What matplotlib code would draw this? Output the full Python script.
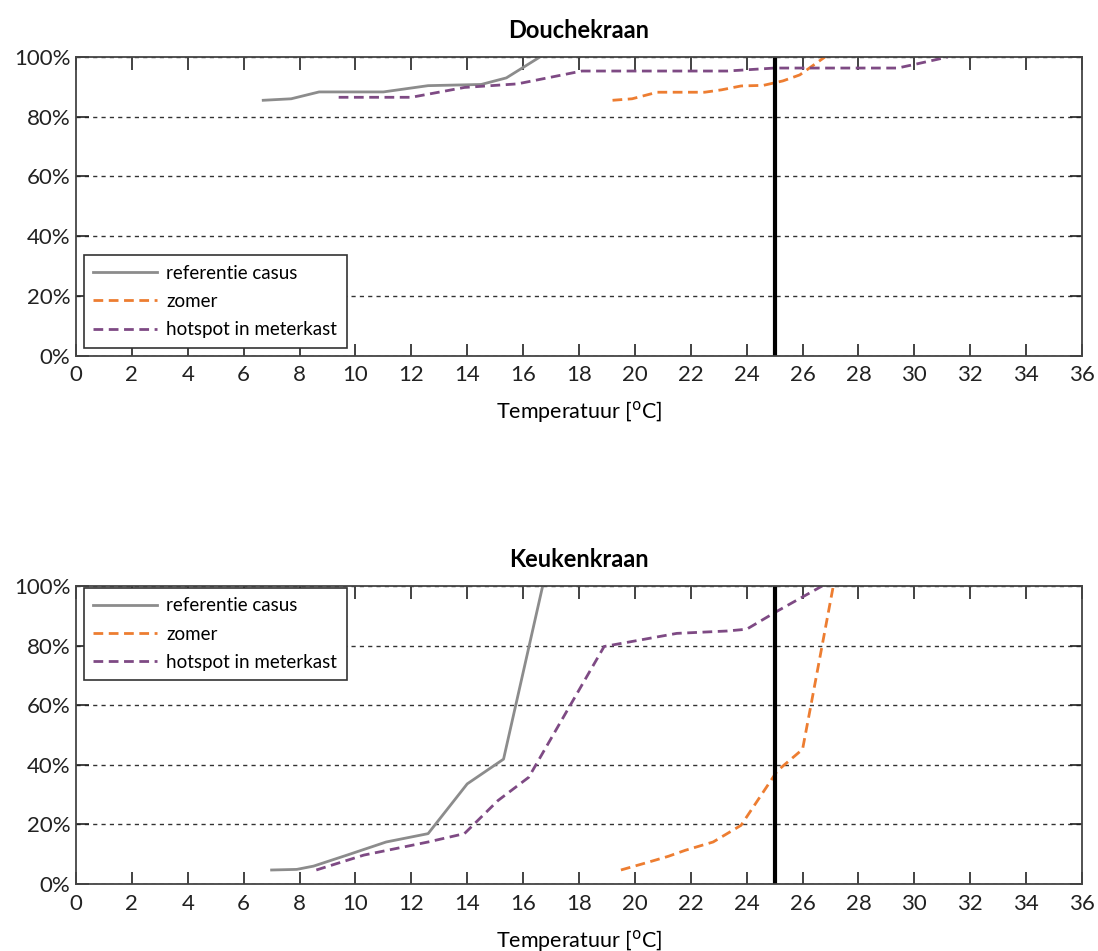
import numpy as np
import matplotlib
matplotlib.use("Agg")
import matplotlib.pyplot as plt
from matplotlib.ticker import MultipleLocator, PercentFormatter

# Douchekraan (shower tap) - cumulative share vs temperature
douche_ref_t = [6.7, 7.7, 8.7, 11.0, 12.6, 14.5, 15.4, 16.6]
douche_ref_p = [85.5, 86.0, 88.3, 88.3, 90.4, 90.8, 93.0, 100.0]
douche_zomer_t = [19.2, 19.9, 20.8, 22.5, 23.1, 23.8, 24.6, 25.3, 25.9, 26.8]
douche_zomer_p = [85.5, 86.0, 88.2, 88.2, 89.0, 90.3, 90.5, 92.0, 94.0, 100.0]
douche_hot_t = [9.4, 12.0, 13.9, 15.8, 18.1, 23.3, 25.0, 29.4, 30.0, 31.2]
douche_hot_p = [86.5, 86.5, 89.8, 91.0, 95.3, 95.3, 96.3, 96.3, 97.5, 100.0]

# Keukenkraan (kitchen tap)
keuken_ref_t = [7.0, 7.9, 8.5, 9.7, 11.1, 12.6, 14.0, 15.3, 16.7]
keuken_ref_p = [4.7, 4.9, 6.0, 9.7, 14.1, 16.9, 33.6, 41.9, 100.0]
keuken_zomer_t = [19.5, 20.4, 21.2, 21.8, 22.8, 23.8, 25.1, 26.0, 26.3, 26.7, 27.1]
keuken_zomer_p = [4.7, 7.1, 9.3, 11.3, 14.1, 19.7, 38.0, 45.2, 60.0, 80.0, 100.0]
keuken_hot_t = [8.6, 10.3, 12.6, 13.9, 15.1, 16.2, 17.7, 18.9, 20.2, 21.5, 23.3, 24.0, 25.1, 26.7]
keuken_hot_p = [4.7, 9.7, 14.1, 16.9, 28.0, 35.8, 60.2, 79.7, 81.9, 84.1, 84.9, 85.5, 91.6, 100.0]

limit_temp = 25

labels = ["referentie casus", "zomer", "hotspot in meterkast"]
colors = ["#8c8c8c", "#ed7d31", "#7e4a84"]

plt.rcParams["font.family"] = ["Lato", "DejaVu Sans"]
plt.rcParams["mathtext.default"] = "regular"

W, H = 1098, 951
fig = plt.figure(figsize=(W / 100, H / 100), dpi=100)


def draw_panel(ax, title, series, legend_loc, legend_anchor):
    (rt, rp), (zt, zp), (ht, hp) = series
    ax.plot(rt, rp, color=colors[0], lw=2.0, ls="-", label=labels[0])
    ax.plot(zt, zp, color=colors[1], lw=2.0, ls=(0, (3.5, 2)), label=labels[1])
    ax.plot(ht, hp, color=colors[2], lw=2.0, ls=(0, (3.5, 2)), label=labels[2])
    ax.axvline(limit_temp, color="black", lw=3)

    ax.set_xlim(0, 36)
    ax.set_ylim(0, 100)
    ax.xaxis.set_major_locator(MultipleLocator(2))
    ax.yaxis.set_major_locator(MultipleLocator(20))
    ax.yaxis.set_major_formatter(PercentFormatter(decimals=0))
    ax.tick_params(direction="in", top=True, right=True, length=9, width=1.2,
                   labelsize=16, colors="#222222")
    ax.tick_params(axis="x", pad=7)
    ax.tick_params(axis="y", pad=4)
    ax.yaxis.grid(True, ls=(0, (3, 3)), color="#333333", lw=1.0)
    for s in ax.spines.values():
        s.set_color("#444444")
        s.set_linewidth(1.3)

    ax.set_title(title, fontsize=17, fontweight="bold", pad=14)
    ax.set_xlabel("Temperatuur [$^{\\rm o}$C]", fontsize=15.5, labelpad=10)

    leg = ax.legend(loc=legend_loc, bbox_to_anchor=legend_anchor, fontsize=13.5,
                    fancybox=False, framealpha=1, edgecolor="#333333",
                    handlelength=3.4, handletextpad=0.5, borderpad=0.5,
                    labelspacing=0.6, borderaxespad=0)
    leg.get_frame().set_linewidth(1.2)


ax1 = fig.add_axes([76 / W, 1 - 355.5 / H, 1006 / W, 298.5 / H])
draw_panel(ax1, "Douchekraan",
           [(douche_ref_t, douche_ref_p), (douche_zomer_t, douche_zomer_p),
            (douche_hot_t, douche_hot_p)],
           "lower left", (8 / 1006, 8 / 298.5))

ax2 = fig.add_axes([76 / W, 1 - 884 / H, 1006 / W, 298 / H])
draw_panel(ax2, "Keukenkraan",
           [(keuken_ref_t, keuken_ref_p), (keuken_zomer_t, keuken_zomer_p),
            (keuken_hot_t, keuken_hot_p)],
           "upper left", (8 / 1006, 1 - 2 / 298))

fig.savefig("out.png", dpi=100)
